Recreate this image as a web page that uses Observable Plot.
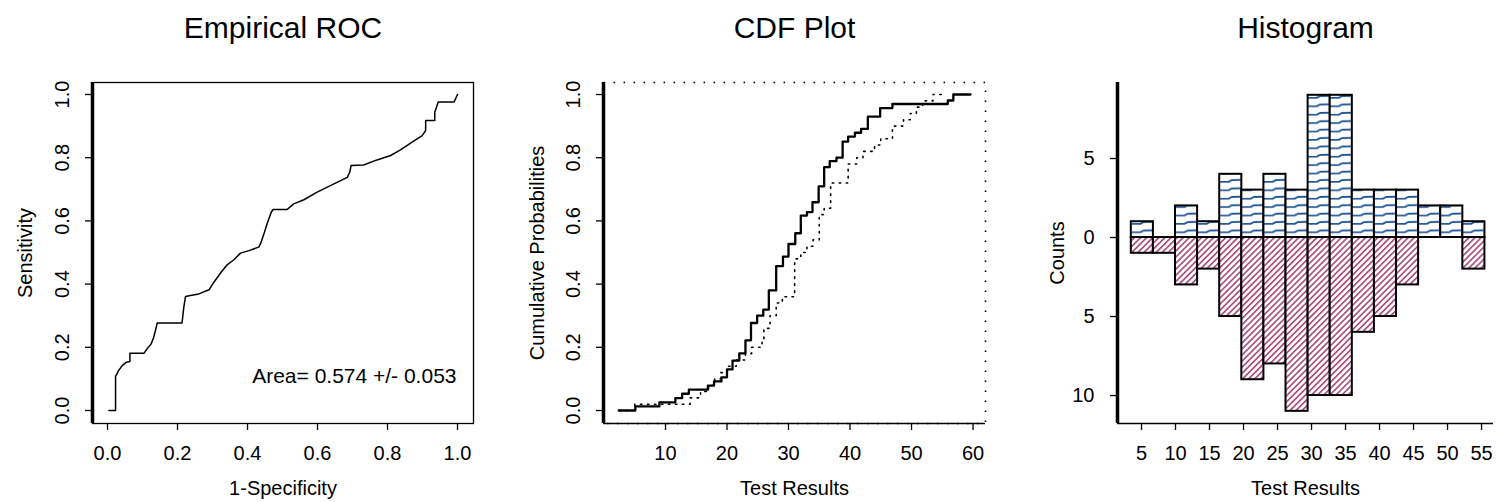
<!DOCTYPE html>
<html><head><meta charset="utf-8">
<script src="https://cdn.jsdelivr.net/npm/d3@7"></script>
<script src="https://cdn.jsdelivr.net/npm/@observablehq/plot@0.6"></script>
<style>
body{margin:0;background:#fff;}
#wrap{position:relative;width:1499px;height:502px;background:#fff;overflow:hidden;}
.panel{position:absolute;top:0;}
</style></head><body><div id="wrap"></div>
<script>
// ---------- data ----------
const titles = ["Empirical ROC", "CDF Plot", "Histogram"];
const xLabels = ["1-Specificity", "Test Results", "Test Results"];
const yLabels = ["Sensitivity", "Cumulative Probabilities", "Counts"];

// Empirical ROC
const rocFpr = [0.004,0.023,0.023,0.032,0.042,0.054,0.064,0.064,0.104,0.113,0.125,0.132,0.138,0.142,0.213,0.218,0.223,0.237,0.261,0.290,0.304,0.323,0.340,0.361,0.380,0.404,0.432,0.437,0.447,0.456,0.468,0.473,0.513,0.532,0.561,0.599,0.647,0.685,0.692,0.696,0.732,0.770,0.809,0.837,0.866,0.899,0.909,0.909,0.935,0.935,0.945,0.990,1.0];
const rocTpr = [0,0,0.108,0.127,0.142,0.153,0.155,0.181,0.181,0.195,0.211,0.232,0.258,0.277,0.277,0.327,0.361,0.364,0.369,0.382,0.406,0.435,0.459,0.477,0.498,0.506,0.517,0.527,0.559,0.591,0.628,0.636,0.636,0.654,0.667,0.691,0.717,0.738,0.754,0.775,0.777,0.793,0.807,0.825,0.846,0.870,0.886,0.918,0.918,0.944,0.976,0.976,1.0];
const rocTicks = [0, 0.2, 0.4, 0.6, 0.8, 1.0];
const rocAreaText = "Area= 0.574 +/- 0.053";

// CDF plot (solid and dotted empirical CDFs)
const cdfSolidX = [2.4,5.1,9.0,11.6,12.7,13.8,16.9,17.9,19.1,20.0,20.9,22.0,23.0,23.9,24.9,25.9,26.8,28.0,29.1,30.0,31.1,32.0,33.0,33.9,34.9,35.8,36.7,37.8,38.8,39.7,40.8,41.8,42.9,44.9,46.9,55.9,56.8,59.6];
const cdfSolidY = [0,0.013,0.026,0.039,0.053,0.066,0.079,0.092,0.105,0.13,0.158,0.181,0.222,0.277,0.30,0.319,0.38,0.457,0.487,0.527,0.561,0.617,0.628,0.659,0.709,0.77,0.789,0.80,0.851,0.867,0.879,0.891,0.93,0.957,0.97,0.981,1.0,1.0];
const cdfDotX = [2.4,5,14,15.7,17,18,19,20,21.5,23,24,25.7,26,27,28,29,31,32,33,34,35,35.8,36.85,39.7,41.1,42.1,44,45,46.9,48.7,49.8,50.8,51.8,53.5,55.3];
const cdfDotY = [0,0.02,0.04,0.06,0.08,0.10,0.12,0.14,0.16,0.18,0.20,0.22,0.26,0.30,0.34,0.36,0.48,0.50,0.52,0.54,0.62,0.64,0.72,0.78,0.80,0.82,0.84,0.86,0.90,0.92,0.94,0.96,0.98,1.0,1.0];
const cdfXTicks = [10, 20, 30, 40, 50, 60];
const cdfYTicks = [0, 0.2, 0.4, 0.6, 0.8, 1.0];

// Histogram (back to back)
const histEdges = [3.5,6.75,10,13.25,16.5,19.75,23,26.25,29.5,32.75,36,39.25,42.5,45.75,49,52.25,55.5];
const histPos = [1,0,2,1,4,3,4,3,9,9,3,3,3,2,2,1];
const histNeg = [1,1,3,2,5,9,8,11,10,10,6,5,3,0,0,2];
const histXTicks = [5,10,15,20,25,30,35,40,45,50,55];
const histYTicks = [5,0,-5,-10];

// ---------- helpers ----------
const FONT = "'Liberation Sans', Arial, Helvetica, sans-serif";
const TICK_FS = 20, LAB_FS = 20, TITLE_FS = 30;
const H = 502, MT = 82, MB = 79;

function common(i) {
  return [
    Plot.text([titles[i]], {frameAnchor: "top", dy: -54, fontSize: TITLE_FS, lineAnchor: "middle", textAnchor: "middle"}),
    Plot.text([xLabels[i]], {frameAnchor: "bottom", dy: 65, fontSize: LAB_FS, lineAnchor: "middle", textAnchor: "middle"})
  ];
}
function yLabel(i, dx) {
  return Plot.text([yLabels[i]], {frameAnchor: "left", rotate: -90, dx, lineAnchor: "middle", textAnchor: "middle", fontSize: LAB_FS});
}
function rotYTicks(ticks, fmt) {
  return Plot.text(ticks, {y: d => d, text: fmt, frameAnchor: "left", rotate: -90, dx: -30,
    lineAnchor: "middle", textAnchor: "middle", fontSize: TICK_FS});
}
function mount(svg, left) {
  const d = document.createElement("div");
  d.className = "panel"; d.style.left = left + "px";
  d.appendChild(svg);
  document.getElementById("wrap").appendChild(d);
}
const baseStyle = {fontFamily: FONT, fontSize: TICK_FS + "px", color: "black", background: "transparent", overflow: "visible"};

// ---------- Panel 1: ROC ----------
const rocData = rocFpr.map((x, i) => ({x, y: rocTpr[i]}));
const rocXDom = [-0.0429, 1.0457], rocYDom = [-0.0411, 1.038];
mount(Plot.plot({
  width: 500, height: H, marginLeft: 92, marginRight: 27, marginTop: MT, marginBottom: MB,
  style: baseStyle,
  x: {domain: rocXDom, axis: null}, y: {domain: rocYDom, axis: null},
  marks: [
    Plot.frame({stroke: "black", strokeWidth: 1.3}),
    Plot.ruleX([rocXDom[0]], {stroke: "black", strokeWidth: 3.5}),
    Plot.axisX({ticks: rocTicks, tickFormat: d3.format(".1f"), tickSize: 7, tickPadding: 15, label: null, fontSize: TICK_FS, strokeWidth: 1.3}),
    Plot.axisY({ticks: rocTicks, tickFormat: () => "", tickSize: 7, label: null, strokeWidth: 1.3}),
    rotYTicks(rocTicks, d3.format(".1f")),
    Plot.line(rocData, {x: "x", y: "y", stroke: "black", strokeWidth: 1.5}),
    Plot.text([rocAreaText], {frameAnchor: "bottom-right", dx: -17, dy: -47, textAnchor: "end", lineAnchor: "middle", fontSize: 21}),
    yLabel(0, -67),
    ...common(0)
  ]
}), 0);

// ---------- Panel 2: CDF ----------
const solid = cdfSolidX.map((x, i) => ({x, y: cdfSolidY[i]}));
const dotted = cdfDotX.map((x, i) => ({x, y: cdfDotY[i]}));
const cdfXDom = [-0.08, 62.03], cdfYDom = [-0.0411, 1.038];
mount(Plot.plot({
  width: 500, height: H, marginLeft: 103, marginRight: 15, marginTop: MT, marginBottom: MB,
  style: baseStyle,
  x: {domain: cdfXDom, axis: null}, y: {domain: cdfYDom, axis: null},
  marks: [
    Plot.frame({stroke: "black", strokeWidth: 1.6, strokeDasharray: "1.6,8.4"}),
    Plot.ruleY([cdfYDom[0]], {stroke: "black", strokeWidth: 1.5}),
    Plot.ruleX([cdfXDom[0]], {stroke: "black", strokeWidth: 3.5}),
    Plot.axisX({ticks: cdfXTicks, tickSize: 7, tickPadding: 15, label: null, fontSize: TICK_FS, strokeWidth: 1.3}),
    Plot.axisY({ticks: cdfYTicks, tickFormat: () => "", tickSize: 7, label: null, strokeWidth: 1.3}),
    rotYTicks(cdfYTicks, d3.format(".1f")),
    Plot.line(dotted, {x: "x", y: "y", curve: "step-after", stroke: "black", strokeWidth: 1.6, strokeDasharray: "1.5,5.5"}),
    Plot.line(solid, {x: "x", y: "y", curve: "step-after", stroke: "black", strokeWidth: 2.3}),
    yLabel(1, -66),
    ...common(1)
  ]
}), 500);

// ---------- Panel 3: Histogram ----------
const bins = histPos.map((p, i) => ({x1: histEdges[i], x2: histEdges[i + 1], pos: p, neg: -histNeg[i]}));
const hXDom = [1.47, 56.76], hYDom = [-11.77, 9.81];
const hsvg = Plot.plot({
  width: 499, height: H, marginLeft: 117, marginRight: 6, marginTop: MT, marginBottom: MB,
  style: baseStyle,
  x: {domain: hXDom, axis: null}, y: {domain: hYDom, axis: null},
  marks: [
    Plot.rect(bins, {x1: "x1", x2: "x2", y1: 0, y2: "neg", fill: "url(#hatchNeg)", stroke: "black", strokeWidth: 2}),
    Plot.rect(bins, {x1: "x1", x2: "x2", y1: 0, y2: "pos", fill: "url(#hatchPos)", stroke: "black", strokeWidth: 2}),
    Plot.ruleY([hYDom[0]], {stroke: "black", strokeWidth: 1.5}),
    Plot.ruleX([hXDom[0]], {stroke: "black", strokeWidth: 3.5}),
    Plot.axisX({ticks: histXTicks, tickSize: 7, tickPadding: 15, label: null, fontSize: TICK_FS, strokeWidth: 1.3}),
    Plot.axisY({ticks: histYTicks, tickFormat: d => Math.abs(d), tickSize: 7, tickPadding: 16, label: null, fontSize: TICK_FS, strokeWidth: 1.3}),
    yLabel(2, -60),
    ...common(2)
  ]
});
d3.select(hsvg).insert("defs", ":first-child").html(`
  <pattern id="hatchPos" patternUnits="userSpaceOnUse" x="130.7" y="0" width="22.04" height="8.4">
    <rect width="22.04" height="8.4" fill="white"/>
    <path d="M1,5.5 L10,5.3 L13,3.7 L22,3.5" fill="none" stroke="#1f5596" stroke-width="1.8"/>
  </pattern>
  <pattern id="hatchNeg" patternUnits="userSpaceOnUse" width="4.3" height="4.3" patternTransform="rotate(45)">
    <rect width="4.3" height="4.3" fill="white"/>
    <rect width="1.6" height="4.3" fill="#a6477a"/>
  </pattern>`);
mount(hsvg, 1000);
</script></body></html>
